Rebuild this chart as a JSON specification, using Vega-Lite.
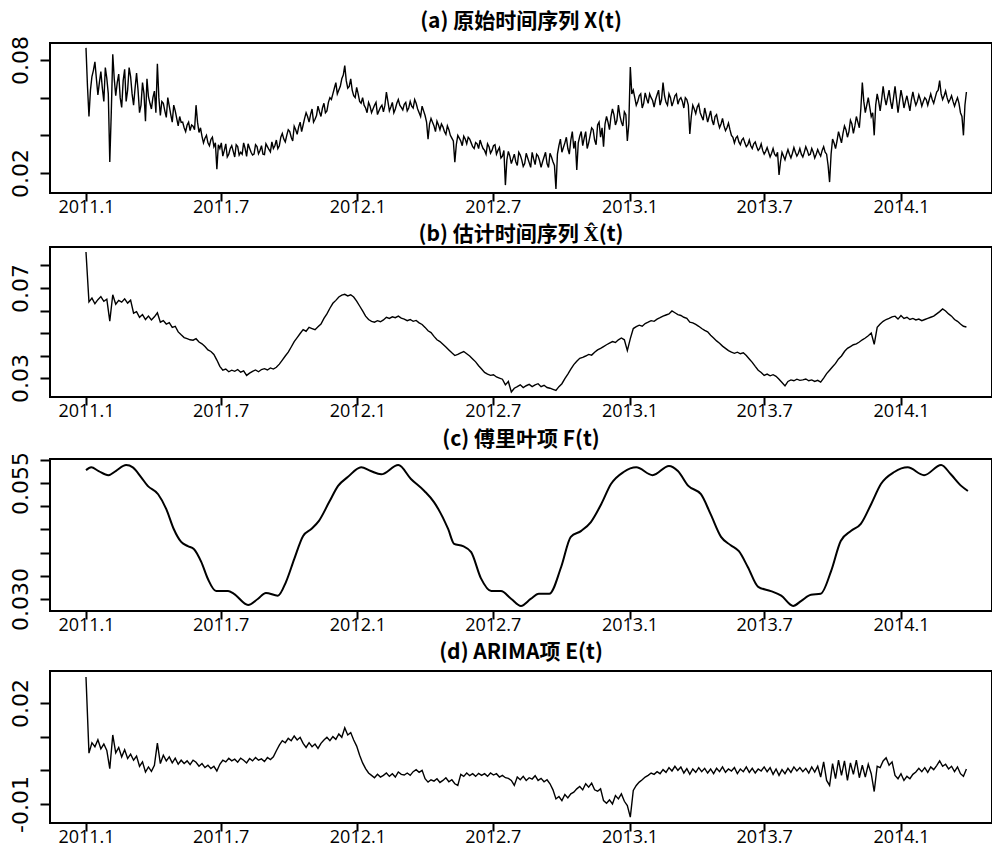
{
"$schema": "https://vega.github.io/schema/vega-lite/v6.json",
"background": "white",
"padding": {"left": 0, "top": 10, "right": 0, "bottom": 0},
"spacing": 3,
"config": {
  "view": {"stroke": "black", "strokeWidth": 2},
  "axis": {"domain": false, "grid": false, "tickColor": "black", "tickWidth": 2, "labelColor": "black", "labelFlush": false, "labelOverlap": false},
  "title": {"font": "Noto Sans CJK SC", "fontWeight": "bold", "fontSize": 21, "color": "black", "anchor": "middle"}
},
"datasets": {
"ts": [
{"d":0,"a":0.0864,"b":0.0860,"e":0.0277},
{"d":4,"a":0.0500,"b":0.0638,"e":0.0051},
{"d":8,"a":0.0712,"b":0.0655,"e":0.0082},
{"d":12,"a":0.0790,"b":0.0630,"e":0.0070},
{"d":16,"a":0.0615,"b":0.0648,"e":0.0091},
{"d":20,"a":0.0738,"b":0.0662,"e":0.0064},
{"d":24,"a":0.0580,"b":0.0641,"e":0.0078},
{"d":28,"a":0.0702,"b":0.0650,"e":0.0059},
{"d":32,"a":0.0258,"b":0.0553,"e":0.0005},
{"d":36,"a":0.0830,"b":0.0670,"e":0.0105},
{"d":40,"a":0.0610,"b":0.0628,"e":0.0052},
{"d":44,"a":0.0725,"b":0.0645,"e":0.0068},
{"d":48,"a":0.0548,"b":0.0637,"e":0.0040},
{"d":52,"a":0.0750,"b":0.0652,"e":0.0061},
{"d":56,"a":0.0640,"b":0.0633,"e":0.0035},
{"d":60,"a":0.0712,"b":0.0646,"e":0.0048},
{"d":64,"a":0.0560,"b":0.0588,"e":0.0030},
{"d":68,"a":0.0730,"b":0.0595,"e":0.0042},
{"d":72,"a":0.0520,"b":0.0570,"e":0.0012},
{"d":76,"a":0.0680,"b":0.0582,"e":0.0025},
{"d":80,"a":0.0475,"b":0.0560,"e":-0.0005},
{"d":84,"a":0.0605,"b":0.0575,"e":0.0010},
{"d":88,"a":0.0540,"b":0.0558,"e":-0.0003},
{"d":92,"a":0.0635,"b":0.0572,"e":0.0015},
{"d":96,"a":0.0780,"b":0.0590,"e":0.0081},
{"d":100,"a":0.0505,"b":0.0548,"e":0.0020},
{"d":104,"a":0.0570,"b":0.0555,"e":0.0045},
{"d":108,"a":0.0495,"b":0.0540,"e":0.0028},
{"d":112,"a":0.0555,"b":0.0546,"e":0.0040},
{"d":116,"a":0.0470,"b":0.0525,"e":0.0022},
{"d":120,"a":0.0530,"b":0.0530,"e":0.0036},
{"d":124,"a":0.0450,"b":0.0505,"e":0.0018},
{"d":128,"a":0.0468,"b":0.0492,"e":0.0030},
{"d":132,"a":0.0440,"b":0.0480,"e":0.0020},
{"d":136,"a":0.0455,"b":0.0475,"e":0.0028},
{"d":140,"a":0.0425,"b":0.0470,"e":0.0017},
{"d":144,"a":0.0448,"b":0.0468,"e":0.0030},
{"d":148,"a":0.0560,"b":0.0475,"e":0.0024},
{"d":152,"a":0.0415,"b":0.0460,"e":0.0012},
{"d":156,"a":0.0395,"b":0.0452,"e":0.0020},
{"d":160,"a":0.0385,"b":0.0440,"e":0.0008},
{"d":164,"a":0.0360,"b":0.0425,"e":0.0015},
{"d":168,"a":0.0378,"b":0.0418,"e":0.0005},
{"d":172,"a":0.0340,"b":0.0405,"e":0.0012},
{"d":176,"a":0.0220,"b":0.0380,"e":-0.0002},
{"d":180,"a":0.0330,"b":0.0352,"e":0.0018},
{"d":184,"a":0.0290,"b":0.0335,"e":0.0030},
{"d":188,"a":0.0355,"b":0.0340,"e":0.0025},
{"d":192,"a":0.0300,"b":0.0328,"e":0.0036},
{"d":196,"a":0.0345,"b":0.0335,"e":0.0028},
{"d":200,"a":0.0285,"b":0.0330,"e":0.0033},
{"d":204,"a":0.0340,"b":0.0338,"e":0.0024},
{"d":208,"a":0.0310,"b":0.0326,"e":0.0036},
{"d":212,"a":0.0360,"b":0.0332,"e":0.0030},
{"d":216,"a":0.0288,"b":0.0312,"e":0.0022},
{"d":220,"a":0.0332,"b":0.0322,"e":0.0035},
{"d":224,"a":0.0295,"b":0.0330,"e":0.0028},
{"d":228,"a":0.0350,"b":0.0336,"e":0.0038},
{"d":232,"a":0.0302,"b":0.0328,"e":0.0030},
{"d":236,"a":0.0345,"b":0.0338,"e":0.0034},
{"d":240,"a":0.0298,"b":0.0342,"e":0.0026},
{"d":244,"a":0.0340,"b":0.0336,"e":0.0038},
{"d":248,"a":0.0312,"b":0.0345,"e":0.0032},
{"d":252,"a":0.0330,"b":0.0340,"e":0.0040},
{"d":256,"a":0.0375,"b":0.0348,"e":0.0058},
{"d":260,"a":0.0345,"b":0.0362,"e":0.0075},
{"d":264,"a":0.0410,"b":0.0380,"e":0.0088},
{"d":268,"a":0.0365,"b":0.0398,"e":0.0082},
{"d":272,"a":0.0430,"b":0.0415,"e":0.0095},
{"d":276,"a":0.0390,"b":0.0438,"e":0.0088},
{"d":280,"a":0.0448,"b":0.0462,"e":0.0102},
{"d":284,"a":0.0405,"b":0.0480,"e":0.0090},
{"d":288,"a":0.0470,"b":0.0498,"e":0.0098},
{"d":292,"a":0.0455,"b":0.0515,"e":0.0080},
{"d":296,"a":0.0520,"b":0.0508,"e":0.0068},
{"d":300,"a":0.0470,"b":0.0525,"e":0.0082},
{"d":304,"a":0.0540,"b":0.0520,"e":0.0070},
{"d":308,"a":0.0485,"b":0.0515,"e":0.0078},
{"d":312,"a":0.0555,"b":0.0528,"e":0.0065},
{"d":316,"a":0.0500,"b":0.0540,"e":0.0080},
{"d":320,"a":0.0570,"b":0.0565,"e":0.0090},
{"d":324,"a":0.0530,"b":0.0585,"e":0.0098},
{"d":328,"a":0.0600,"b":0.0610,"e":0.0088},
{"d":332,"a":0.0620,"b":0.0632,"e":0.0100},
{"d":336,"a":0.0680,"b":0.0645,"e":0.0092},
{"d":340,"a":0.0640,"b":0.0660,"e":0.0108},
{"d":344,"a":0.0700,"b":0.0668,"e":0.0098},
{"d":348,"a":0.0770,"b":0.0672,"e":0.0126},
{"d":352,"a":0.0650,"b":0.0665,"e":0.0105},
{"d":356,"a":0.0700,"b":0.0670,"e":0.0112},
{"d":360,"a":0.0610,"b":0.0660,"e":0.0090},
{"d":364,"a":0.0655,"b":0.0642,"e":0.0072},
{"d":368,"a":0.0580,"b":0.0620,"e":0.0045},
{"d":372,"a":0.0600,"b":0.0598,"e":0.0022},
{"d":376,"a":0.0545,"b":0.0575,"e":0.0005},
{"d":380,"a":0.0575,"b":0.0560,"e":-0.0008},
{"d":384,"a":0.0520,"b":0.0552,"e":-0.0015},
{"d":388,"a":0.0560,"b":0.0548,"e":-0.0022},
{"d":392,"a":0.0510,"b":0.0555,"e":-0.0012},
{"d":396,"a":0.0548,"b":0.0550,"e":-0.0020},
{"d":400,"a":0.0525,"b":0.0558,"e":-0.0015},
{"d":404,"a":0.0630,"b":0.0570,"e":-0.0008},
{"d":408,"a":0.0530,"b":0.0565,"e":-0.0018},
{"d":412,"a":0.0575,"b":0.0572,"e":-0.0010},
{"d":416,"a":0.0540,"b":0.0568,"e":-0.0020},
{"d":420,"a":0.0590,"b":0.0575,"e":-0.0005},
{"d":424,"a":0.0548,"b":0.0566,"e":-0.0012},
{"d":428,"a":0.0565,"b":0.0562,"e":-0.0014},
{"d":432,"a":0.0530,"b":0.0555,"e":-0.0008},
{"d":436,"a":0.0580,"b":0.0560,"e":-0.0015},
{"d":440,"a":0.0545,"b":0.0552,"e":-0.0004},
{"d":444,"a":0.0570,"b":0.0556,"e":0.0002},
{"d":448,"a":0.0520,"b":0.0545,"e":-0.0006},
{"d":452,"a":0.0555,"b":0.0538,"e":0.0000},
{"d":456,"a":0.0505,"b":0.0525,"e":-0.0025},
{"d":460,"a":0.0380,"b":0.0510,"e":-0.0035},
{"d":464,"a":0.0490,"b":0.0502,"e":-0.0028},
{"d":468,"a":0.0450,"b":0.0485,"e":-0.0032},
{"d":472,"a":0.0475,"b":0.0470,"e":-0.0025},
{"d":476,"a":0.0430,"b":0.0462,"e":-0.0036},
{"d":480,"a":0.0445,"b":0.0450,"e":-0.0030},
{"d":484,"a":0.0405,"b":0.0438,"e":-0.0022},
{"d":488,"a":0.0430,"b":0.0425,"e":-0.0034},
{"d":492,"a":0.0385,"b":0.0412,"e":-0.0028},
{"d":496,"a":0.0258,"b":0.0400,"e":-0.0040},
{"d":500,"a":0.0400,"b":0.0405,"e":-0.0045},
{"d":504,"a":0.0370,"b":0.0412,"e":-0.0012},
{"d":508,"a":0.0395,"b":0.0418,"e":-0.0018},
{"d":512,"a":0.0355,"b":0.0408,"e":-0.0008},
{"d":516,"a":0.0380,"b":0.0398,"e":-0.0016},
{"d":520,"a":0.0340,"b":0.0385,"e":-0.0010},
{"d":524,"a":0.0362,"b":0.0372,"e":-0.0018},
{"d":528,"a":0.0330,"b":0.0355,"e":-0.0009},
{"d":532,"a":0.0350,"b":0.0340,"e":-0.0015},
{"d":536,"a":0.0320,"b":0.0325,"e":-0.0010},
{"d":540,"a":0.0355,"b":0.0318,"e":-0.0018},
{"d":544,"a":0.0305,"b":0.0312,"e":-0.0008},
{"d":548,"a":0.0345,"b":0.0315,"e":-0.0014},
{"d":552,"a":0.0300,"b":0.0305,"e":-0.0010},
{"d":556,"a":0.0335,"b":0.0300,"e":-0.0020},
{"d":560,"a":0.0290,"b":0.0295,"e":-0.0015},
{"d":564,"a":0.0136,"b":0.0270,"e":-0.0022},
{"d":568,"a":0.0315,"b":0.0285,"e":-0.0024},
{"d":572,"a":0.0250,"b":0.0238,"e":-0.0030},
{"d":576,"a":0.0300,"b":0.0255,"e":-0.0045},
{"d":580,"a":0.0240,"b":0.0262,"e":-0.0020},
{"d":584,"a":0.0295,"b":0.0270,"e":-0.0028},
{"d":588,"a":0.0235,"b":0.0258,"e":-0.0018},
{"d":592,"a":0.0305,"b":0.0266,"e":-0.0030},
{"d":596,"a":0.0255,"b":0.0272,"e":-0.0022},
{"d":600,"a":0.0310,"b":0.0262,"e":-0.0026},
{"d":604,"a":0.0245,"b":0.0270,"e":-0.0016},
{"d":608,"a":0.0290,"b":0.0275,"e":-0.0030},
{"d":612,"a":0.0230,"b":0.0262,"e":-0.0024},
{"d":616,"a":0.0285,"b":0.0268,"e":-0.0034},
{"d":620,"a":0.0250,"b":0.0258,"e":-0.0028},
{"d":624,"a":0.0305,"b":0.0255,"e":-0.0040},
{"d":628,"a":0.0260,"b":0.0250,"e":-0.0058},
{"d":632,"a":0.0115,"b":0.0245,"e":-0.0085},
{"d":636,"a":0.0345,"b":0.0262,"e":-0.0078},
{"d":640,"a":0.0310,"b":0.0275,"e":-0.0090},
{"d":644,"a":0.0360,"b":0.0298,"e":-0.0072},
{"d":648,"a":0.0330,"b":0.0318,"e":-0.0082},
{"d":652,"a":0.0375,"b":0.0340,"e":-0.0070},
{"d":656,"a":0.0330,"b":0.0360,"e":-0.0065},
{"d":660,"a":0.0216,"b":0.0375,"e":-0.0055},
{"d":664,"a":0.0395,"b":0.0388,"e":-0.0048},
{"d":668,"a":0.0345,"b":0.0392,"e":-0.0058},
{"d":672,"a":0.0420,"b":0.0398,"e":-0.0040},
{"d":676,"a":0.0360,"b":0.0405,"e":-0.0050},
{"d":680,"a":0.0440,"b":0.0402,"e":-0.0038},
{"d":684,"a":0.0375,"b":0.0415,"e":-0.0058},
{"d":688,"a":0.0455,"b":0.0425,"e":-0.0062},
{"d":692,"a":0.0390,"b":0.0432,"e":-0.0055},
{"d":696,"a":0.0340,"b":0.0440,"e":-0.0090},
{"d":700,"a":0.0500,"b":0.0448,"e":-0.0098},
{"d":704,"a":0.0430,"b":0.0455,"e":-0.0088},
{"d":708,"a":0.0540,"b":0.0462,"e":-0.0100},
{"d":712,"a":0.0455,"b":0.0458,"e":-0.0075},
{"d":716,"a":0.0560,"b":0.0470,"e":-0.0085},
{"d":720,"a":0.0470,"b":0.0478,"e":-0.0070},
{"d":724,"a":0.0525,"b":0.0470,"e":-0.0092},
{"d":728,"a":0.0370,"b":0.0422,"e":-0.0105},
{"d":732,"a":0.0763,"b":0.0475,"e":-0.0139},
{"d":736,"a":0.0640,"b":0.0520,"e":-0.0060},
{"d":740,"a":0.0560,"b":0.0528,"e":-0.0045},
{"d":744,"a":0.0610,"b":0.0535,"e":-0.0035},
{"d":748,"a":0.0545,"b":0.0530,"e":-0.0028},
{"d":752,"a":0.0625,"b":0.0542,"e":-0.0020},
{"d":756,"a":0.0570,"b":0.0548,"e":-0.0015},
{"d":760,"a":0.0600,"b":0.0555,"e":-0.0008},
{"d":764,"a":0.0550,"b":0.0552,"e":-0.0012},
{"d":768,"a":0.0615,"b":0.0562,"e":-0.0004},
{"d":772,"a":0.0560,"b":0.0568,"e":-0.0010},
{"d":776,"a":0.0680,"b":0.0575,"e":0.0002},
{"d":780,"a":0.0575,"b":0.0580,"e":-0.0006},
{"d":784,"a":0.0620,"b":0.0585,"e":0.0008},
{"d":788,"a":0.0555,"b":0.0598,"e":-0.0002},
{"d":792,"a":0.0610,"b":0.0590,"e":0.0012},
{"d":796,"a":0.0565,"b":0.0582,"e":0.0000},
{"d":800,"a":0.0600,"b":0.0578,"e":0.0010},
{"d":804,"a":0.0545,"b":0.0570,"e":-0.0008},
{"d":808,"a":0.0590,"b":0.0565,"e":0.0005},
{"d":812,"a":0.0407,"b":0.0548,"e":-0.0012},
{"d":816,"a":0.0560,"b":0.0545,"e":0.0004},
{"d":820,"a":0.0515,"b":0.0538,"e":-0.0006},
{"d":824,"a":0.0565,"b":0.0530,"e":0.0008},
{"d":828,"a":0.0500,"b":0.0520,"e":-0.0004},
{"d":832,"a":0.0545,"b":0.0512,"e":0.0006},
{"d":836,"a":0.0470,"b":0.0505,"e":-0.0008},
{"d":840,"a":0.0530,"b":0.0490,"e":0.0004},
{"d":844,"a":0.0455,"b":0.0478,"e":-0.0010},
{"d":848,"a":0.0510,"b":0.0465,"e":0.0006},
{"d":852,"a":0.0440,"b":0.0455,"e":-0.0004},
{"d":856,"a":0.0490,"b":0.0442,"e":0.0010},
{"d":860,"a":0.0425,"b":0.0432,"e":-0.0006},
{"d":864,"a":0.0465,"b":0.0422,"e":0.0004},
{"d":868,"a":0.0400,"b":0.0415,"e":-0.0002},
{"d":872,"a":0.0360,"b":0.0410,"e":0.0008},
{"d":876,"a":0.0395,"b":0.0415,"e":-0.0010},
{"d":880,"a":0.0350,"b":0.0408,"e":0.0004},
{"d":884,"a":0.0385,"b":0.0412,"e":-0.0004},
{"d":888,"a":0.0340,"b":0.0400,"e":0.0010},
{"d":892,"a":0.0375,"b":0.0385,"e":-0.0006},
{"d":896,"a":0.0330,"b":0.0370,"e":0.0006},
{"d":900,"a":0.0365,"b":0.0352,"e":-0.0008},
{"d":904,"a":0.0320,"b":0.0335,"e":0.0004},
{"d":908,"a":0.0355,"b":0.0325,"e":-0.0002},
{"d":912,"a":0.0300,"b":0.0312,"e":0.0010},
{"d":916,"a":0.0335,"b":0.0318,"e":-0.0004},
{"d":920,"a":0.0285,"b":0.0310,"e":0.0008},
{"d":924,"a":0.0330,"b":0.0315,"e":-0.0012},
{"d":928,"a":0.0290,"b":0.0308,"e":0.0004},
{"d":932,"a":0.0190,"b":0.0295,"e":-0.0015},
{"d":936,"a":0.0310,"b":0.0280,"e":0.0002},
{"d":940,"a":0.0270,"b":0.0265,"e":-0.0010},
{"d":944,"a":0.0325,"b":0.0285,"e":0.0006},
{"d":948,"a":0.0280,"b":0.0292,"e":-0.0006},
{"d":952,"a":0.0335,"b":0.0288,"e":0.0010},
{"d":956,"a":0.0290,"b":0.0295,"e":-0.0002},
{"d":960,"a":0.0330,"b":0.0290,"e":0.0008},
{"d":964,"a":0.0285,"b":0.0292,"e":-0.0004},
{"d":968,"a":0.0340,"b":0.0296,"e":0.0006},
{"d":972,"a":0.0295,"b":0.0288,"e":-0.0008},
{"d":976,"a":0.0330,"b":0.0292,"e":0.0010},
{"d":980,"a":0.0280,"b":0.0285,"e":-0.0005},
{"d":984,"a":0.0325,"b":0.0290,"e":0.0012},
{"d":988,"a":0.0290,"b":0.0282,"e":-0.0020},
{"d":992,"a":0.0340,"b":0.0300,"e":0.0025},
{"d":996,"a":0.0300,"b":0.0320,"e":-0.0030},
{"d":1000,"a":0.0152,"b":0.0335,"e":-0.0045},
{"d":1004,"a":0.0380,"b":0.0350,"e":0.0020},
{"d":1008,"a":0.0330,"b":0.0365,"e":-0.0025},
{"d":1012,"a":0.0420,"b":0.0385,"e":0.0030},
{"d":1016,"a":0.0360,"b":0.0398,"e":-0.0015},
{"d":1020,"a":0.0450,"b":0.0418,"e":0.0028},
{"d":1024,"a":0.0390,"b":0.0432,"e":-0.0030},
{"d":1028,"a":0.0480,"b":0.0440,"e":0.0022},
{"d":1032,"a":0.0410,"b":0.0448,"e":-0.0012},
{"d":1036,"a":0.0500,"b":0.0452,"e":0.0030},
{"d":1040,"a":0.0440,"b":0.0460,"e":-0.0022},
{"d":1044,"a":0.0680,"b":0.0470,"e":0.0015},
{"d":1048,"a":0.0520,"b":0.0478,"e":-0.0020},
{"d":1052,"a":0.0600,"b":0.0488,"e":0.0018},
{"d":1056,"a":0.0500,"b":0.0500,"e":-0.0010},
{"d":1060,"a":0.0400,"b":0.0450,"e":-0.0063},
{"d":1064,"a":0.0620,"b":0.0525,"e":0.0012},
{"d":1068,"a":0.0530,"b":0.0540,"e":0.0008},
{"d":1072,"a":0.0660,"b":0.0552,"e":0.0028},
{"d":1076,"a":0.0560,"b":0.0560,"e":0.0037},
{"d":1080,"a":0.0640,"b":0.0565,"e":0.0015},
{"d":1084,"a":0.0540,"b":0.0572,"e":0.0025},
{"d":1088,"a":0.0660,"b":0.0575,"e":-0.0015},
{"d":1092,"a":0.0520,"b":0.0562,"e":-0.0025},
{"d":1096,"a":0.0640,"b":0.0578,"e":-0.0010},
{"d":1100,"a":0.0545,"b":0.0565,"e":-0.0030},
{"d":1104,"a":0.0610,"b":0.0570,"e":-0.0018},
{"d":1108,"a":0.0530,"b":0.0560,"e":-0.0025},
{"d":1112,"a":0.0630,"b":0.0565,"e":-0.0012},
{"d":1116,"a":0.0560,"b":0.0558,"e":-0.0005},
{"d":1120,"a":0.0615,"b":0.0562,"e":0.0006},
{"d":1124,"a":0.0555,"b":0.0555,"e":-0.0004},
{"d":1128,"a":0.0600,"b":0.0560,"e":0.0008},
{"d":1132,"a":0.0560,"b":0.0565,"e":-0.0006},
{"d":1136,"a":0.0620,"b":0.0570,"e":0.0010},
{"d":1140,"a":0.0570,"b":0.0575,"e":0.0002},
{"d":1144,"a":0.0630,"b":0.0585,"e":0.0014},
{"d":1148,"a":0.0690,"b":0.0595,"e":0.0028},
{"d":1152,"a":0.0590,"b":0.0607,"e":0.0012},
{"d":1156,"a":0.0635,"b":0.0598,"e":0.0018},
{"d":1160,"a":0.0575,"b":0.0585,"e":0.0004},
{"d":1164,"a":0.0610,"b":0.0575,"e":0.0012},
{"d":1168,"a":0.0555,"b":0.0560,"e":-0.0004},
{"d":1172,"a":0.0600,"b":0.0552,"e":0.0010},
{"d":1176,"a":0.0520,"b":0.0540,"e":-0.0010},
{"d":1180,"a":0.0400,"b":0.0530,"e":-0.0018},
{"d":1184,"a":0.0630,"b":0.0527,"e":0.0004},
{"d":2,"a":0.0660},{"d":6,"a":0.0640},{"d":10,"a":0.0745},{"d":14,"a":0.0700},{"d":18,"a":0.0680},
{"d":22,"a":0.0650},{"d":26,"a":0.0760},{"d":30,"a":0.0620},{"d":34,"a":0.0520},{"d":38,"a":0.0700},
{"d":42,"a":0.0680},{"d":46,"a":0.0600},{"d":50,"a":0.0690},{"d":54,"a":0.0580},{"d":58,"a":0.0760},
{"d":62,"a":0.0620},{"d":66,"a":0.0650},{"d":70,"a":0.0640},{"d":74,"a":0.0560},{"d":78,"a":0.0620},
{"d":82,"a":0.0700},{"d":86,"a":0.0570},{"d":90,"a":0.0600},{"d":94,"a":0.0520},{"d":98,"a":0.0600},
{"d":102,"a":0.0580},{"d":106,"a":0.0530},{"d":110,"a":0.0600},{"d":114,"a":0.0510},{"d":118,"a":0.0560},
{"d":122,"a":0.0490},{"d":126,"a":0.0500},{"d":130,"a":0.0470},{"d":134,"a":0.0420},{"d":138,"a":0.0470},
{"d":142,"a":0.0455},{"d":146,"a":0.0430},{"d":150,"a":0.0470},{"d":154,"a":0.0440},{"d":158,"a":0.0360},
{"d":162,"a":0.0400},{"d":166,"a":0.0345},{"d":170,"a":0.0390},{"d":174,"a":0.0360},{"d":178,"a":0.0350},
{"d":182,"a":0.0360},{"d":186,"a":0.0320},{"d":190,"a":0.0285},{"d":194,"a":0.0330},{"d":198,"a":0.0315},
{"d":202,"a":0.0350},{"d":206,"a":0.0295},{"d":210,"a":0.0300},{"d":214,"a":0.0330},{"d":218,"a":0.0355},
{"d":222,"a":0.0310},{"d":226,"a":0.0300},{"d":230,"a":0.0340},{"d":234,"a":0.0320},{"d":238,"a":0.0300},
{"d":242,"a":0.0355},{"d":246,"a":0.0325},{"d":250,"a":0.0365},{"d":254,"a":0.0345},{"d":258,"a":0.0330},
{"d":262,"a":0.0390},{"d":266,"a":0.0380},{"d":270,"a":0.0400},{"d":274,"a":0.0420},{"d":278,"a":0.0370},
{"d":282,"a":0.0430},{"d":286,"a":0.0445},{"d":290,"a":0.0420},{"d":294,"a":0.0490},{"d":298,"a":0.0500},
{"d":302,"a":0.0510},{"d":306,"a":0.0470},{"d":310,"a":0.0505},{"d":314,"a":0.0525},{"d":318,"a":0.0545},
{"d":322,"a":0.0520},{"d":326,"a":0.0575},{"d":330,"a":0.0590},{"d":334,"a":0.0650},{"d":338,"a":0.0620},
{"d":342,"a":0.0660},{"d":346,"a":0.0720},{"d":350,"a":0.0690},{"d":354,"a":0.0660},{"d":358,"a":0.0640},
{"d":362,"a":0.0600},{"d":366,"a":0.0620},{"d":370,"a":0.0570},{"d":374,"a":0.0560},{"d":378,"a":0.0520},
{"d":382,"a":0.0555},{"d":386,"a":0.0540},{"d":390,"a":0.0575},{"d":394,"a":0.0530},{"d":398,"a":0.0560},
{"d":402,"a":0.0560},{"d":406,"a":0.0580},{"d":410,"a":0.0550},{"d":414,"a":0.0520},{"d":418,"a":0.0570},
{"d":422,"a":0.0560},{"d":426,"a":0.0535},{"d":430,"a":0.0575},{"d":434,"a":0.0545},{"d":438,"a":0.0555},
{"d":442,"a":0.0590},{"d":446,"a":0.0540},{"d":450,"a":0.0500},{"d":454,"a":0.0530},{"d":458,"a":0.0470},
{"d":462,"a":0.0460},{"d":466,"a":0.0470},{"d":470,"a":0.0420},{"d":474,"a":0.0455},{"d":478,"a":0.0460},
{"d":482,"a":0.0420},{"d":486,"a":0.0450},{"d":490,"a":0.0400},{"d":494,"a":0.0370},{"d":498,"a":0.0350},
{"d":502,"a":0.0385},{"d":506,"a":0.0345},{"d":510,"a":0.0380},{"d":514,"a":0.0390},{"d":518,"a":0.0360},
{"d":522,"a":0.0330},{"d":526,"a":0.0355},{"d":530,"a":0.0375},{"d":534,"a":0.0330},{"d":538,"a":0.0300},
{"d":542,"a":0.0340},{"d":546,"a":0.0320},{"d":550,"a":0.0350},{"d":554,"a":0.0320},{"d":558,"a":0.0280},
{"d":562,"a":0.0320},{"d":566,"a":0.0270},{"d":570,"a":0.0290},{"d":574,"a":0.0275},{"d":578,"a":0.0260},
{"d":582,"a":0.0310},{"d":586,"a":0.0270},{"d":590,"a":0.0250},{"d":594,"a":0.0280},{"d":598,"a":0.0230},
{"d":602,"a":0.0275},{"d":606,"a":0.0300},{"d":610,"a":0.0265},{"d":614,"a":0.0260},{"d":618,"a":0.0310},
{"d":622,"a":0.0230},{"d":626,"a":0.0285},{"d":630,"a":0.0240},{"d":634,"a":0.0300},{"d":638,"a":0.0380},
{"d":642,"a":0.0335},{"d":646,"a":0.0390},{"d":650,"a":0.0300},{"d":654,"a":0.0420},{"d":658,"a":0.0370},
{"d":662,"a":0.0360},{"d":666,"a":0.0420},{"d":670,"a":0.0385},{"d":674,"a":0.0330},{"d":678,"a":0.0400},
{"d":682,"a":0.0430},{"d":686,"a":0.0350},{"d":690,"a":0.0470},{"d":694,"a":0.0440},{"d":698,"a":0.0460},
{"d":702,"a":0.0470},{"d":706,"a":0.0500},{"d":710,"a":0.0510},{"d":714,"a":0.0480},{"d":718,"a":0.0505},
{"d":722,"a":0.0450},{"d":726,"a":0.0510},{"d":730,"a":0.0460},{"d":734,"a":0.0620},{"d":738,"a":0.0600},
{"d":742,"a":0.0580},{"d":746,"a":0.0620},{"d":750,"a":0.0570},{"d":754,"a":0.0595},{"d":758,"a":0.0620},
{"d":762,"a":0.0585},{"d":766,"a":0.0590},{"d":770,"a":0.0640},{"d":774,"a":0.0590},{"d":778,"a":0.0610},
{"d":782,"a":0.0560},{"d":786,"a":0.0600},{"d":790,"a":0.0580},{"d":794,"a":0.0620},{"d":798,"a":0.0590},
{"d":802,"a":0.0580},{"d":806,"a":0.0600},{"d":810,"a":0.0560},{"d":814,"a":0.0500},{"d":818,"a":0.0540},
{"d":822,"a":0.0550},{"d":826,"a":0.0520},{"d":830,"a":0.0480},{"d":834,"a":0.0510},{"d":838,"a":0.0500},
{"d":842,"a":0.0480},{"d":846,"a":0.0500},{"d":850,"a":0.0470},{"d":854,"a":0.0460},{"d":858,"a":0.0450},
{"d":862,"a":0.0440},{"d":866,"a":0.0430},{"d":870,"a":0.0390},{"d":874,"a":0.0385},{"d":878,"a":0.0365},
{"d":882,"a":0.0375},{"d":886,"a":0.0360},{"d":890,"a":0.0350},{"d":894,"a":0.0345},{"d":898,"a":0.0355},
{"d":902,"a":0.0340},{"d":906,"a":0.0330},{"d":910,"a":0.0320},{"d":914,"a":0.0315},{"d":918,"a":0.0310},
{"d":922,"a":0.0305},{"d":926,"a":0.0300},{"d":930,"a":0.0310},{"d":934,"a":0.0260},{"d":938,"a":0.0290},
{"d":942,"a":0.0300},{"d":946,"a":0.0300},{"d":950,"a":0.0305},{"d":954,"a":0.0310},{"d":958,"a":0.0305},
{"d":962,"a":0.0300},{"d":966,"a":0.0310},{"d":970,"a":0.0320},{"d":974,"a":0.0300},{"d":978,"a":0.0310},
{"d":982,"a":0.0300},{"d":986,"a":0.0305},{"d":990,"a":0.0320},{"d":994,"a":0.0310},{"d":998,"a":0.0240},
{"d":1002,"a":0.0300},{"d":1006,"a":0.0360},{"d":1010,"a":0.0370},{"d":1014,"a":0.0390},{"d":1018,"a":0.0410},
{"d":1022,"a":0.0430},{"d":1026,"a":0.0420},{"d":1030,"a":0.0460},{"d":1034,"a":0.0450},{"d":1038,"a":0.0470},
{"d":1042,"a":0.0540},{"d":1046,"a":0.0580},{"d":1050,"a":0.0560},{"d":1054,"a":0.0550},{"d":1058,"a":0.0520},
{"d":1062,"a":0.0560},{"d":1066,"a":0.0580},{"d":1070,"a":0.0590},{"d":1074,"a":0.0600},{"d":1078,"a":0.0600},
{"d":1082,"a":0.0580},{"d":1086,"a":0.0600},{"d":1090,"a":0.0590},{"d":1094,"a":0.0580},{"d":1098,"a":0.0600},
{"d":1102,"a":0.0580},{"d":1106,"a":0.0570},{"d":1110,"a":0.0590},{"d":1114,"a":0.0590},{"d":1118,"a":0.0580},
{"d":1122,"a":0.0590},{"d":1126,"a":0.0580},{"d":1130,"a":0.0590},{"d":1134,"a":0.0590},{"d":1138,"a":0.0590},
{"d":1142,"a":0.0600},{"d":1146,"a":0.0640},{"d":1150,"a":0.0620},{"d":1154,"a":0.0610},{"d":1158,"a":0.0600},
{"d":1162,"a":0.0590},{"d":1166,"a":0.0580},{"d":1170,"a":0.0580},{"d":1174,"a":0.0570},{"d":1178,"a":0.0500},
{"d":1182,"a":0.0560}
],
"fc": [
{"d":0,"v":0.0578},{"d":7,"v":0.0584},{"d":17,"v":0.0576},{"d":30,"v":0.0567},{"d":40,"v":0.0576},
{"d":54,"v":0.0589},{"d":63,"v":0.0584},{"d":74,"v":0.0563},{"d":83,"v":0.0544},{"d":97,"v":0.0526},
{"d":108,"v":0.0494},{"d":118,"v":0.0451},{"d":128,"v":0.0423},{"d":137,"v":0.0414},{"d":145,"v":0.0408},
{"d":155,"v":0.0380},{"d":164,"v":0.0343},{"d":175,"v":0.0317},{"d":191,"v":0.0317},{"d":199,"v":0.0311},
{"d":218,"v":0.0287},{"d":231,"v":0.0300},{"d":242,"v":0.0313},{"d":258,"v":0.0307},{"d":269,"v":0.0337},
{"d":280,"v":0.0386},{"d":292,"v":0.0436},{"d":303,"v":0.0451},{"d":313,"v":0.0468},{"d":327,"v":0.0509},
{"d":339,"v":0.0544},{"d":352,"v":0.0563},{"d":370,"v":0.0584},{"d":383,"v":0.0576},{"d":397,"v":0.0569},
{"d":420,"v":0.0589},{"d":437,"v":0.0559},{"d":455,"v":0.0533},{"d":468,"v":0.0509},{"d":487,"v":0.0451},
{"d":495,"v":0.0419},{"d":507,"v":0.0414},{"d":518,"v":0.0401},{"d":531,"v":0.0345},{"d":545,"v":0.0317},
{"d":558,"v":0.0317},{"d":572,"v":0.0300},{"d":585,"v":0.0285},{"d":598,"v":0.0300},{"d":609,"v":0.0311},
{"d":623,"v":0.0311},{"d":639,"v":0.0369},{"d":652,"v":0.0434},{"d":666,"v":0.0447},{"d":679,"v":0.0466},
{"d":693,"v":0.0505},{"d":706,"v":0.0548},{"d":723,"v":0.0574},{"d":740,"v":0.0584},{"d":762,"v":0.0567},
{"d":784,"v":0.0587},{"d":796,"v":0.0576},{"d":810,"v":0.0544},{"d":827,"v":0.0526},{"d":840,"v":0.0483},
{"d":854,"v":0.0434},{"d":867,"v":0.0416},{"d":878,"v":0.0403},{"d":890,"v":0.0369},{"d":904,"v":0.0326},
{"d":921,"v":0.0317},{"d":935,"v":0.0307},{"d":951,"v":0.0285},{"d":962,"v":0.0296},{"d":975,"v":0.0309},
{"d":988,"v":0.0311},{"d":1002,"v":0.0360},{"d":1015,"v":0.0425},{"d":1029,"v":0.0447},{"d":1042,"v":0.0462},
{"d":1056,"v":0.0505},{"d":1069,"v":0.0548},{"d":1087,"v":0.0574},{"d":1105,"v":0.0584},{"d":1127,"v":0.0567},
{"d":1150,"v":0.0589},{"d":1163,"v":0.0569},{"d":1177,"v":0.0544},{"d":1186,"v":0.0533}
]
},
"vconcat": [
{
  "title": {"text": "(a) 原始时间序列 X(t)", "offset": 3},
  "width": 942, "height": 150,
  "data": {"name": "ts"},
  "mark": {"type": "line", "color": "black", "strokeWidth": 1.4, "invalid": "filter"},
  "encoding": {
    "x": {"field": "d", "type": "quantitative", "title": null,
      "scale": {"domain": [-48.4, 1218.4], "nice": false, "zero": false},
      "axis": {"values": [0, 181, 365, 547, 731, 912, 1096], "labelExpr": "['2011.1','2011.7','2012.1','2012.7','2013.1','2013.7','2014.1'][indexof([0,181,365,547,731,912,1096], datum.value)]", "tickSize": 8, "labelPadding": -3, "labelFont": "Open Sans", "labelFontSize": 18, "labelAngle": 0, "minExtent": 26, "maxExtent": 26}},
    "y": {"field": "a", "type": "quantitative", "title": null,
      "scale": {"domain": [0.0094, 0.089], "nice": false, "zero": false},
      "axis": {"values": [0.02, 0.04, 0.06, 0.08], "labelExpr": "datum.value == 0.08 ? '0.08' : datum.value == 0.02 ? '0.02' : ''", "tickSize": 10, "labelAngle": 270, "labelAlign": "center", "labelBaseline": "bottom", "labelPadding": 8, "labelFont": "DejaVu Sans", "labelFontSize": 22, "minExtent": 49, "maxExtent": 49}}
  }
},
{
  "title": {"text": "(b) 估计时间序列 X̂(t)", "offset": 2},
  "width": 942, "height": 150,
  "data": {"name": "ts"},
  "mark": {"type": "line", "color": "black", "strokeWidth": 1.4, "invalid": "filter"},
  "encoding": {
    "x": {"field": "d", "type": "quantitative", "title": null,
      "scale": {"domain": [-48.4, 1218.4], "nice": false, "zero": false},
      "axis": {"values": [0, 181, 365, 547, 731, 912, 1096], "labelExpr": "['2011.1','2011.7','2012.1','2012.7','2013.1','2013.7','2014.1'][indexof([0,181,365,547,731,912,1096], datum.value)]", "tickSize": 8, "labelPadding": -3, "labelFont": "Open Sans", "labelFontSize": 18, "labelAngle": 0, "minExtent": 26, "maxExtent": 26}},
    "y": {"field": "b", "type": "quantitative", "title": null,
      "scale": {"domain": [0.0216, 0.0882], "nice": false, "zero": false},
      "axis": {"values": [0.03, 0.04, 0.05, 0.06, 0.07, 0.08], "labelExpr": "datum.value == 0.07 ? '0.07' : datum.value == 0.03 ? '0.03' : ''", "tickSize": 10, "labelAngle": 270, "labelAlign": "center", "labelBaseline": "bottom", "labelPadding": 8, "labelFont": "DejaVu Sans", "labelFontSize": 22, "minExtent": 49, "maxExtent": 49}}
  }
},
{
  "title": {"text": "(c) 傅里叶项 F(t)", "offset": 2},
  "width": 942, "height": 152,
  "data": {"name": "fc"},
  "mark": {"type": "line", "color": "black", "strokeWidth": 2, "interpolate": "monotone"},
  "encoding": {
    "x": {"field": "d", "type": "quantitative", "title": null,
      "scale": {"domain": [-48.4, 1218.4], "nice": false, "zero": false},
      "axis": {"values": [0, 181, 365, 547, 731, 912, 1096], "labelExpr": "['2011.1','2011.7','2012.1','2012.7','2013.1','2013.7','2014.1'][indexof([0,181,365,547,731,912,1096], datum.value)]", "tickSize": 8, "labelPadding": -3, "labelFont": "Open Sans", "labelFontSize": 18, "labelAngle": 0, "minExtent": 26, "maxExtent": 26}},
    "y": {"field": "v", "type": "quantitative", "title": null,
      "scale": {"domain": [0.0274, 0.0602], "nice": false, "zero": false},
      "axis": {"values": [0.03, 0.035, 0.04, 0.045, 0.05, 0.055, 0.06], "labelExpr": "datum.value == 0.055 ? '0.055' : datum.value == 0.03 ? '0.030' : ''", "tickSize": 10, "labelAngle": 270, "labelAlign": "center", "labelBaseline": "bottom", "labelPadding": 8, "labelFont": "DejaVu Sans", "labelFontSize": 22, "minExtent": 49, "maxExtent": 49}}
  }
},
{
  "title": {"text": "(d) ARIMA项 E(t)", "offset": 8},
  "width": 942, "height": 152,
  "data": {"name": "ts"},
  "mark": {"type": "line", "color": "black", "strokeWidth": 1.4, "invalid": "filter"},
  "encoding": {
    "x": {"field": "d", "type": "quantitative", "title": null,
      "scale": {"domain": [-48.4, 1218.4], "nice": false, "zero": false},
      "axis": {"values": [0, 181, 365, 547, 731, 912, 1096], "labelExpr": "['2011.1','2011.7','2012.1','2012.7','2013.1','2013.7','2014.1'][indexof([0,181,365,547,731,912,1096], datum.value)]", "tickSize": 8, "labelPadding": -3, "labelFont": "Open Sans", "labelFontSize": 18, "labelAngle": 0, "minExtent": 26, "maxExtent": 26}},
    "y": {"field": "e", "type": "quantitative", "title": null,
      "scale": {"domain": [-0.01565, 0.0295], "nice": false, "zero": false},
      "axis": {"values": [-0.01, 0, 0.01, 0.02], "labelExpr": "datum.value == 0.02 ? '0.02' : datum.value == -0.01 ? '-0.01' : ''", "tickSize": 10, "labelAngle": 270, "labelAlign": "center", "labelBaseline": "bottom", "labelPadding": 8, "labelFont": "DejaVu Sans", "labelFontSize": 22, "minExtent": 49, "maxExtent": 49}}
  }
}
]
}
